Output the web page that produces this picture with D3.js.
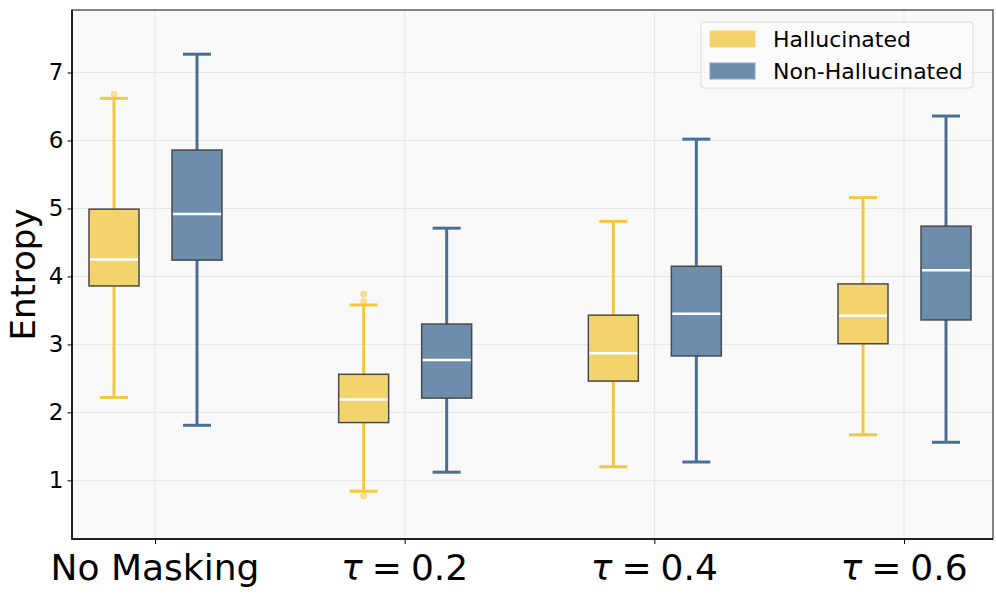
<!DOCTYPE html>
<html>
<head>
<meta charset="utf-8">
<script src="https://cdn.jsdelivr.net/npm/d3@7"></script>
<style>
  body { margin: 0; background: #fff; }
  svg { font-family: "DejaVu Sans", sans-serif; }
</style>
</head>
<body>
<svg id="chart"></svg>
<script>
'use strict';

const WIDTH = 996;
const HEIGHT = 595;
const MARGIN = {top: 10, right: 3, bottom: 56, left: 72};

const categories = ["No Masking", "τ = 0.2", "τ = 0.4", "τ = 0.6"];
const seriesNames = ["Hallucinated", "Non-Hallucinated"];
const yTicks = [1, 2, 3, 4, 5, 6, 7];

// [low whisker, Q1, median, Q3, high whisker]
const hallucinated = [
    [2.22, 3.86, 4.25, 4.99, 6.62],
    [0.84, 1.85, 2.19, 2.56, 3.58],
    [1.20, 2.46, 2.87, 3.43, 4.81],
    [1.67, 3.01, 3.42, 3.89, 5.16]
];
const nonHallucinated = [
    [1.81, 4.24, 4.92, 5.86, 7.27],
    [1.12, 2.21, 2.77, 3.30, 4.71],
    [1.27, 2.83, 3.45, 4.15, 6.02],
    [1.56, 3.36, 4.09, 4.74, 6.36]
];
const hallucinatedOutliers = [[6.68], [3.74, 3.63, 0.77], [], []];
const nonHallucinatedOutliers = [[], [], [], []];

const FILL = ["#f3d36b", "#6d8dad"];
const LINE = ["#f5c73e", "#4a6f96"];

const svg = d3.select("svg#chart")
              .attr("width", WIDTH)
              .attr("height", HEIGHT);

const x = d3.scalePoint()
            .domain(categories)
            .range([MARGIN.left + 83, WIDTH - MARGIN.right - 89]);
const y = d3.scaleLinear()
            .domain([0.137, 7.92])
            .range([HEIGHT - MARGIN.bottom, MARGIN.top]);

const plotW = WIDTH - MARGIN.left - MARGIN.right;
const plotH = HEIGHT - MARGIN.top - MARGIN.bottom;

svg.append("rect")
   .attr("x", MARGIN.left).attr("y", MARGIN.top)
   .attr("width", plotW).attr("height", plotH)
   .attr("fill", "#f9f9f9");

// grid
const grid = svg.append("g");
grid.selectAll("line.gy").data(yTicks).enter().append("line")
    .attr("x1", MARGIN.left).attr("x2", WIDTH - MARGIN.right)
    .attr("y1", d => y(d)).attr("y2", d => y(d))
    .attr("stroke", "#e6e6e6").attr("stroke-width", 1);
grid.selectAll("line.gx").data(categories).enter().append("line")
    .attr("y1", MARGIN.top).attr("y2", HEIGHT - MARGIN.bottom)
    .attr("x1", d => x(d)).attr("x2", d => x(d))
    .attr("stroke", "#e6e6e6").attr("stroke-width", 1);

// boxes
const OFFSET = [-41, 42];
const BOX_W = 50;
const CAP_W = 28;

[hallucinated, nonHallucinated].forEach((series, s) => {
    const outliers = s === 0 ? hallucinatedOutliers : nonHallucinatedOutliers;
    const g = svg.append("g");
    series.forEach((d, i) => {
        const cx = x(categories[i]) + OFFSET[s];
        // whiskers
        g.append("line")
         .attr("x1", cx).attr("x2", cx)
         .attr("y1", y(d[0])).attr("y2", y(d[1]))
         .attr("stroke", LINE[s]).attr("stroke-width", 3);
        g.append("line")
         .attr("x1", cx).attr("x2", cx)
         .attr("y1", y(d[3])).attr("y2", y(d[4]))
         .attr("stroke", LINE[s]).attr("stroke-width", 3);
        [d[0], d[4]].forEach(v => {
            g.append("line")
             .attr("x1", cx - CAP_W / 2).attr("x2", cx + CAP_W / 2)
             .attr("y1", y(v)).attr("y2", y(v))
             .attr("stroke", LINE[s]).attr("stroke-width", 3);
        });
        g.append("rect")
         .attr("x", cx - BOX_W / 2).attr("width", BOX_W)
         .attr("y", y(d[3])).attr("height", y(d[1]) - y(d[3]))
         .attr("fill", FILL[s])
         .attr("stroke", "#4a4a4a").attr("stroke-width", 1.5);
        g.append("line")
         .attr("x1", cx - BOX_W / 2 + 1).attr("x2", cx + BOX_W / 2 - 1)
         .attr("y1", y(d[2])).attr("y2", y(d[2]))
         .attr("stroke", "#fff").attr("stroke-width", 2.5);
        g.selectAll("circle.o" + i).data(outliers[i]).enter().append("circle")
         .attr("cx", cx).attr("cy", v => y(v)).attr("r", 3)
         .attr("fill", LINE[s]).attr("fill-opacity", 0.5)
         .attr("stroke", LINE[s]).attr("stroke-opacity", 0.5);
    });
});

// axes
const yAxis = d3.axisLeft(y).tickValues(yTicks).tickSize(4.5).tickPadding(4).tickFormat(d3.format("d"));
svg.append("g")
   .attr("transform", "translate(" + MARGIN.left + ",0)")
   .call(yAxis)
   .call(g => g.select(".domain").remove())
   .call(g => g.selectAll("text").attr("font-size", 23).attr("fill", "#000").attr("font-family", "DejaVu Sans"))
   .call(g => g.selectAll("line").attr("stroke", "#000").attr("stroke-width", 1));

const xAxis = d3.axisBottom(x).tickSize(5).tickFormat("");
svg.append("g")
   .attr("transform", "translate(0," + (HEIGHT - MARGIN.bottom) + ")")
   .call(xAxis)
   .call(g => g.select(".domain").remove())
   .call(g => g.selectAll("line").attr("stroke", "#000").attr("stroke-width", 1));

// x labels, tau in math italic
const xl = svg.append("g");
categories.forEach((c, i) => {
    const t = xl.append("text")
                .attr("x", x(c)).attr("y", 580)
                .attr("text-anchor", "middle")
                .attr("font-size", 36).attr("fill", "#000");
    if (c.startsWith("τ")) {
        t.append("tspan").attr("font-style", "italic").text("τ");
        t.append("tspan").text(c.slice(1).replace(/ /g, "\u2005"));
    } else {
        t.text(c);
    }
});

// frame
svg.append("rect")
   .attr("x", MARGIN.left).attr("y", MARGIN.top)
   .attr("width", plotW).attr("height", plotH)
   .attr("fill", "none").attr("stroke", "#444").attr("stroke-width", 1.3);
svg.append("path")
   .attr("d", "M" + MARGIN.left + "," + MARGIN.top + "V" + (HEIGHT - MARGIN.bottom) + "H" + (WIDTH - MARGIN.right))
   .attr("fill", "none").attr("stroke", "#000").attr("stroke-width", 1.5);

// y label
svg.append("text")
   .attr("transform", "translate(35," + (MARGIN.top + plotH / 2) + ") rotate(-90)")
   .attr("text-anchor", "middle")
   .attr("font-size", 34).attr("fill", "#000")
   .text("Entropy");

// legend
const leg = svg.append("g").attr("transform", "translate(701,22)");
leg.append("rect")
   .attr("width", 272).attr("height", 66).attr("rx", 3)
   .attr("fill", "#fbfbfb").attr("fill-opacity", 0.8)
   .attr("stroke", "#dcdcdc");
seriesNames.forEach((n, i) => {
    leg.append("rect")
       .attr("x", 9).attr("y", 9 + i * 32)
       .attr("width", 45).attr("height", 16)
       .attr("fill", FILL[i]).attr("stroke", i === 0 ? "#f5d77a" : "#8aa3bd");
    leg.append("text")
       .attr("x", 72).attr("y", 25 + i * 32)
       .attr("font-size", 22).attr("fill", "#000")
       .text(n);
});
</script>
</body>
</html>
